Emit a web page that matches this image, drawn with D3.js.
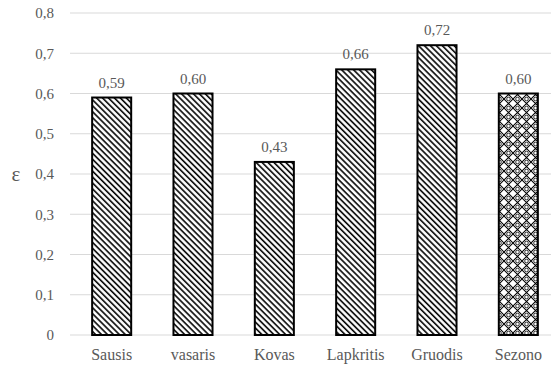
<!DOCTYPE html>
<html>
<head>
<meta charset="utf-8">
<script src="https://cdn.jsdelivr.net/npm/d3@7"></script>
<style>
  html, body { margin: 0; padding: 0; background: #fff; }
  svg { display: block; }
</style>
</head>
<body>
<svg id="chart" width="551" height="368"></svg>
<script>
// Months and the season total
const categories = ["Sausis", "vasaris", "Kovas", "Lapkritis", "Gruodis", "Sezono"];
const values = [0.59, 0.60, 0.43, 0.66, 0.72, 0.60];
const valueLabels = ["0,59", "0,60", "0,43", "0,66", "0,72", "0,60"];
const yTicks = [0, 0.1, 0.2, 0.3, 0.4, 0.5, 0.6, 0.7, 0.8];

const W = 551, H = 368;
const margin = { left: 71, right: -8, top: 13, bottom: 33 };
const INK = "#595959";
const FONT = "'Liberation Serif', 'Times New Roman', serif";

// Serif text styling applied to every label
const serif = (sel, size) => sel
  .style("font-family", FONT, "important")
  .style("font-size", size + "px", "important")
  .style("fill", INK, "important");

const svg = d3.select("#chart");
const defs = svg.append("defs");

// Downward diagonal hatch for monthly bars
const hatch = defs.append("pattern")
  .attr("id", "hatch").attr("patternUnits", "userSpaceOnUse")
  .attr("width", 4.2).attr("height", 4.2)
  .attr("patternTransform", "rotate(45)");
hatch.append("rect").attr("width", 4.2).attr("height", 4.2).attr("fill", "#fff");
hatch.append("line").attr("x1", 0).attr("y1", 1).attr("x2", 4.2).attr("y2", 1)
  .attr("stroke", "#000").attr("stroke-width", 1.6);

// Lattice with small rings for the season bar
const lattice = defs.append("pattern")
  .attr("id", "lattice").attr("patternUnits", "userSpaceOnUse")
  .attr("width", 9).attr("height", 9);
lattice.append("rect").attr("width", 9).attr("height", 9).attr("fill", "#fff");
lattice.append("path").attr("d", "M0,0 L9,9 M9,0 L0,9")
  .attr("stroke", "#000").attr("stroke-width", 1.1).attr("fill", "none");
lattice.append("circle").attr("cx", 4.5).attr("cy", 0).attr("r", 1.8)
  .attr("fill", "#fff").attr("stroke", "#000").attr("stroke-width", 0.8);
lattice.append("circle").attr("cx", 4.5).attr("cy", 9).attr("r", 1.8)
  .attr("fill", "#fff").attr("stroke", "#000").attr("stroke-width", 0.8);

const x = d3.scaleBand()
  .domain(categories)
  .range([margin.left, W - margin.right])
  .paddingInner(0.52).paddingOuter(0.26);

const y = d3.scaleLinear()
  .domain([0, 0.8])
  .range([H - margin.bottom, margin.top]);

const fmt = d => d === 0 ? "0" : d3.format(".1f")(d).replace(".", ",");

// Gridlines
svg.append("g").selectAll("line").data(yTicks).join("line")
  .attr("x1", 70).attr("x2", W)
  .attr("y1", d => y(d)).attr("y2", d => y(d))
  .attr("stroke", "#d9d9d9").attr("stroke-width", 1);

// Y axis labels
const yAxis = d3.axisLeft(y).tickValues(yTicks).tickFormat(fmt).tickSize(0).tickPadding(0);
svg.append("g").attr("transform", "translate(54,0)").call(yAxis)
  .call(g => g.select(".domain").remove())
  .selectAll("text").call(serif, 15);

// Axis title
svg.append("text").attr("x", 16).attr("y", 181)
  .attr("text-anchor", "middle")
  .call(serif, 21)
  .text("ε");

// Bars
svg.append("g").selectAll("rect").data(categories).join("rect")
  .attr("x", d => x(d))
  .attr("y", (d, i) => y(values[i]))
  .attr("width", x.bandwidth())
  .attr("height", (d, i) => y(0) - y(values[i]))
  .attr("fill", (d, i) => i === categories.length - 1 ? "url(#lattice)" : "url(#hatch)")
  .attr("stroke", "#000").attr("stroke-width", 2);

// Value labels
svg.append("g").selectAll("text").data(categories).join("text")
  .attr("x", d => x(d) + x.bandwidth() / 2)
  .attr("y", (d, i) => y(values[i]) - 10)
  .attr("text-anchor", "middle")
  .call(serif, 15)
  .text((d, i) => valueLabels[i]);

// Category labels
const xAxis = d3.axisBottom(x).tickSize(0).tickPadding(0);
svg.append("g").attr("transform", `translate(0,${H - 19})`).call(xAxis)
  .call(g => g.select(".domain").remove())
  .selectAll("text").call(serif, 16);
</script>
</body>
</html>
